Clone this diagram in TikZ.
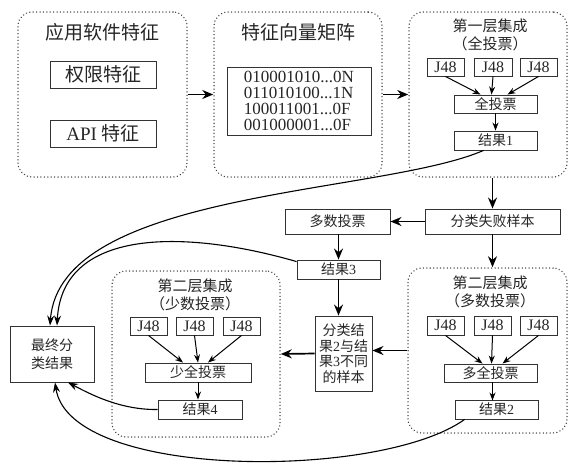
\documentclass[tikz,border=0pt]{standalone}
\usepackage{fontspec}
\setmainfont{Liberation Serif}
\newfontfamily\cjk{Noto Sans CJK SC}
\usetikzlibrary{arrows.meta,calc}
\begin{document}
\begin{tikzpicture}[x=1pt,y=-1pt,
  grp/.style={draw=black!75, line width=1.5pt, dash pattern=on 0.01pt off 3.4pt, line cap=round, rounded corners=14pt, inner sep=0},
  bx/.style={draw=black!80, line width=0.9pt, inner sep=0, text=black!85},
  fA/.style={font=\fontsize{19}{21}\selectfont},
  fB/.style={font=\fontsize{15}{18}\selectfont},
  fC/.style={font=\fontsize{14}{16}\selectfont},
  fJ/.style={font=\fontsize{16}{18}\selectfont},
  big/.style={line width=1.7pt, -{Stealth[length=11pt,width=9pt]}},
  small/.style={line width=1pt, -{Stealth[length=8pt,width=6pt]}},
  crv/.style={line width=1.1pt, -{Stealth[length=10pt,width=7pt]}}]
\useasboundingbox (0,0) rectangle (569,463);
\fill[white] (0,0) rectangle (569,463);

% group 1
\node[grp, minimum width=169, minimum height=165] (g1) at (102.5,94.5) {};
\node[fA, text=black!85] (t1) at (102,32) {\cjk 应用软件特征};
\node[bx, fA, minimum width=106, minimum height=27] (perm) at (103,74.5) {\cjk 权限特征};
\node[bx, fA, minimum width=106, minimum height=27] (api) at (103,133.5) {API {\cjk 特征}};

% group 2
\node[grp, minimum width=168, minimum height=165] (g2) at (298,94.5) {};
\node[fA, text=black!85] (t2) at (298,32) {\cjk 特征向量矩阵};
\node[bx, minimum width=144, minimum height=68, align=left, font=\fontsize{17}{16}\selectfont] (mat) at (299,101)
  {010001010...0N\\011010100...1N\\100011001...0F\\001000001...0F};

% group 3
\node[grp, minimum width=158, minimum height=165] (g3) at (488,94.5) {};
\node[fB, align=center, text=black!85] (t3) at (490,35) {\cjk 第一层集成\\\cjk （全投票）};
\node[bx, fJ, minimum width=37, minimum height=18] (j1) at (445.5,67) {J48};
\node[bx, fJ, minimum width=38, minimum height=18] (j2) at (493,67) {J48};
\node[bx, fJ, minimum width=37, minimum height=18] (j3) at (538.5,67) {J48};
\node[bx, fC, minimum width=83, minimum height=18] (v1) at (495.5,104) {\cjk 全投票};
\node[bx, fC, minimum width=83, minimum height=19] (r1) at (495.5,140.5) {{\cjk 结果}1};

% middle
\node[bx, fC, minimum width=135, minimum height=25] (fail) at (492.5,221.5) {\cjk 分类失败样本};
\node[bx, fC, minimum width=105, minimum height=25] (maj) at (337.5,221.5) {\cjk 多数投票};
\node[bx, fC, minimum width=83, minimum height=19] (r3) at (338.5,269.5) {{\cjk 结果}3};
\node[bx, fC, minimum width=57, minimum height=75, align=center, font=\fontsize{14}{15.5}\selectfont] (diff) at (343.5,353.5)
  {{\cjk 分类结}\\{\cjk 果}2{\cjk 与结}\\{\cjk 果}3{\cjk 不同}\\{\cjk 的样本}};

% group 4
\node[grp, minimum width=159, minimum height=165] (g4) at (487.5,350.5) {};
\node[fB, align=center, text=black!85] (t4) at (490,292) {\cjk 第二层集成\\\cjk （多数投票）};
\node[bx, fJ, minimum width=37, minimum height=19] (j4) at (445.5,325.5) {J48};
\node[bx, fJ, minimum width=37, minimum height=19] (j5) at (492.5,325.5) {J48};
\node[bx, fJ, minimum width=37, minimum height=19] (j6) at (538.5,325.5) {J48};
\node[bx, fC, minimum width=93, minimum height=18] (v2) at (490.5,373) {\cjk 多全投票};
\node[bx, fC, minimum width=83, minimum height=19] (r2) at (496.5,409.5) {{\cjk 结果}2};

% group 5
\node[grp, minimum width=168, minimum height=166] (g5) at (196,354) {};
\node[fB, align=center, text=black!85] (t5) at (195,295) {\cjk 第二层集成\\\cjk （少数投票）};
\node[bx, fJ, minimum width=37, minimum height=18] (j7) at (148.5,326) {J48};
\node[bx, fJ, minimum width=37, minimum height=18] (j8) at (194.5,326) {J48};
\node[bx, fJ, minimum width=37, minimum height=18] (j9) at (241.5,326) {J48};
\node[bx, fC, minimum width=106, minimum height=19] (v3) at (198,372.5) {\cjk 少全投票};
\node[bx, fC, minimum width=84, minimum height=19] (r4) at (200,409.5) {{\cjk 结果}4};

% final
\node[bx, fC, minimum width=84, minimum height=56, align=center, font=\fontsize{14}{18}\selectfont] (fin) at (52,354) {\cjk 最终分\\\cjk 类结果};

% big arrows
\draw[big] (g1.east) -- (g2.west);
\draw[big] (g2.east) -- (g3.west);
\draw[big] (fail.north |- g3.south) -- (fail.north);
\draw[big] (fail.west) -- (maj.east);
\draw[big] (fail.south) -- (fail.south |- g4.north);
\draw[big] (maj.south -| r3.north) -- (r3.north);
\draw[big] (r3.south) -- (r3.south |- diff.north);
\draw[big] (g4.west) -- (g4.west -| diff.east);
\draw[big] (diff.west) -- (g5.east);

% small arrows
\draw[small] (j1.south) -- ($(v1.north)+(-15,0)$);
\draw[small] (j2.south) -- ($(v1.north)+(-4,0)$);
\draw[small] (j3.south) -- ($(v1.north)+(12,0)$);
\draw[small] (v1.south) -- (r1.north);
\draw[small] (j4.south) -- ($(v2.north)+(-8,0)$);
\draw[small] (j5.south) -- ($(v2.north)+(1,0)$);
\draw[small] (j6.south) -- ($(v2.north)+(12,0)$);
\draw[small] (v2.south -| r2.north) ++(-4,0) -- ++(0,18);
\draw[small] (j7.south) -- ($(v3.north)+(-15,0)$);
\draw[small] (j8.south) -- ($(v3.north)+(0,0)$);
\draw[small] (j9.south) -- ($(v3.north)+(10,0)$);
\draw[small] (v3.south) -- (v3.south |- r4.north);

% curves
\draw[crv] ($(r1.south)+(-12,0)$) .. controls (380,195) and (60,190) .. ($(fin.north)+(-2,0)$);
\draw[crv] ($(r3.north west)+(0,2)$) .. controls (180,228) and (62,230) .. ($(fin.north)+(5,0)$);
\draw[crv] (r4.west) .. controls (120,410) and (90,394) .. ($(fin.south)+(16,0)$);
\draw[crv] ($(r2.south west)+(10,0)$) .. controls (380,480) and (70,480) .. ($(fin.south)+(3,0)$);
\end{tikzpicture}
\end{document}
